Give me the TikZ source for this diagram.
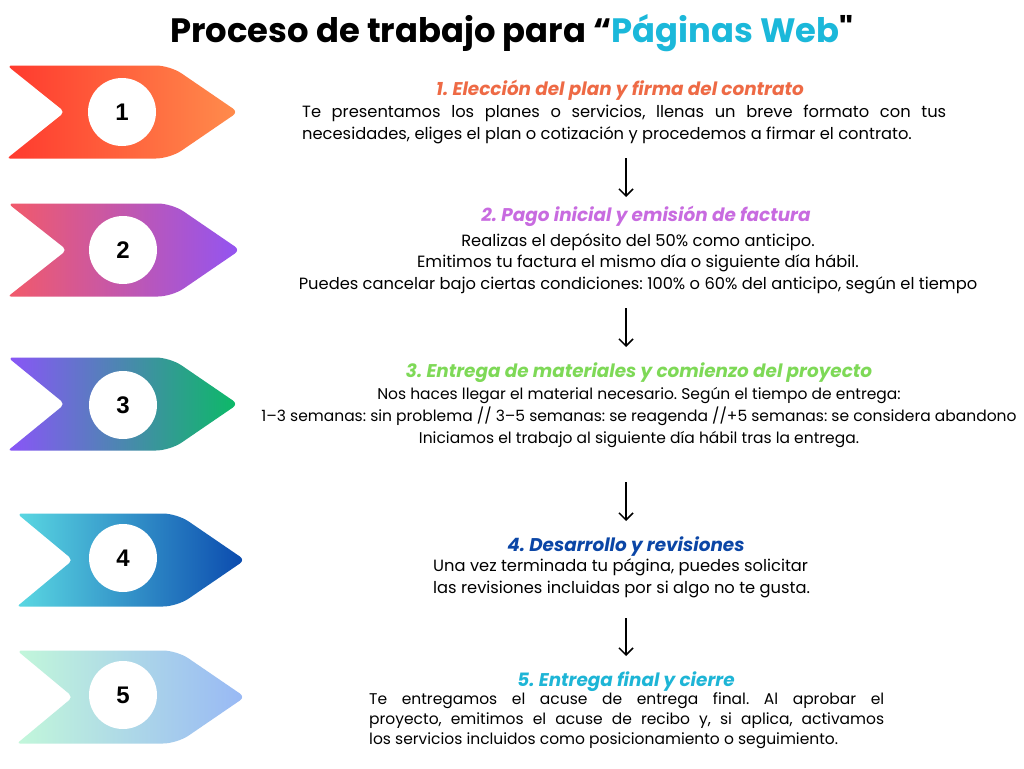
\documentclass[tikz,border=0pt]{standalone}
\usepackage{fontspec}
\setmainfont{Poppins}
\newfontfamily\titlefont{Poppins}[Ligatures=TeXOff]
\newfontfamily\numfont{Liberation Sans}
\usetikzlibrary{arrows.meta}
\definecolor{cAl}{HTML}{FF3A2E}\definecolor{cAr}{HTML}{FF8C4C}
\definecolor{cBl}{HTML}{F25A6A}\definecolor{cBr}{HTML}{9254F2}
\definecolor{cCl}{HTML}{8A55F8}\definecolor{cCr}{HTML}{0BBA66}
\definecolor{cDl}{HTML}{5AD8E2}\definecolor{cDr}{HTML}{0B4AAE}
\definecolor{cEl}{HTML}{C2F7DA}\definecolor{cEr}{HTML}{98B8F5}
\definecolor{hA}{HTML}{EE6A45}\definecolor{hB}{HTML}{C86BE0}
\definecolor{hC}{HTML}{7ED957}\definecolor{hD}{HTML}{0B46A6}
\definecolor{hE}{HTML}{1EB5D6}\definecolor{titlecyan}{HTML}{1BB8DA}
\newcommand\chevron[6]{% cy, L, N, T, leftcolor, rightcolor
  \shade[left color=#5,right color=#6,rounded corners=5pt]
    ({#2},{#1-46.5}) [rounded corners=14pt] -- ({#4-68},{#1-46.5})
    [rounded corners=6pt] -- ({#4},{#1}) [rounded corners=14pt] -- ({#4-68},{#1+46.5})
    [rounded corners=3pt] -- ({#2},{#1+46.5}) [rounded corners=5pt] -- ({#3},{#1}) -- cycle;}
\begin{document}
\frenchspacing
\begin{tikzpicture}[x=1pt,y=-1pt,
  numcircle/.style={circle,fill=white,minimum size=68pt,inner sep=0pt,
    font=\numfont\bfseries\fontsize{24}{24}\selectfont},
  titletext/.style={anchor=base,inner sep=0pt,font=\titlefont\bfseries\fontsize{33.8}{34}\selectfont},
  headtext/.style={anchor=base,inner sep=0pt,font=\bfseries\itshape\fontsize{18.4}{18}\selectfont},
  bodytext/.style={inner sep=0pt,font=\fontsize{16.3}{21.5}\selectfont},
  downarrow/.style={line width=1.5pt,-{Straight Barb[length=7pt,width=14pt,line width=1.5pt]}}]
\useasboundingbox[fill=white] (0,0) rectangle (1024,768);
% chevrons
\chevron{112}{7}{65}{238}{cAl}{cAr}
\chevron{250}{8}{67}{240}{cBl}{cBr}
\chevron{404}{8}{65}{238}{cCl}{cCr}
\chevron{560}{17}{73}{245}{cDl}{cDr}
\chevron{697}{17}{73}{245}{cEl}{cEr}
\node[numcircle] (n1) at (122,112) {1};
\node[numcircle] (n2) at (123,250) {2};
\node[numcircle] (n3) at (123,405) {3};
\node[numcircle] (n4) at (123,558) {4};
\node[numcircle] (n5) at (123,695) {5};
% title
\node[titletext] (title) at (512,42) {Proceso de trabajo para “\textcolor{titlecyan}{Páginas Web}"};
% step 1
\node[headtext,text=hA] (h1) at (620,95) {1. Elección del plan y firma del contrato};
\node[bodytext,anchor=north west,text width=644pt,align=justify] (b1) at (302,105)
  {Te presentamos los planes o servicios, llenas un breve formato con tus\linebreak
   necesidades, eliges el plan o cotización y procedemos a firmar el contrato.};
% step 2
\node[headtext,text=hB] (h2) at (646,221) {2. Pago inicial y emisión de factura};
\node[bodytext,anchor=north,align=center] (b2) at (638,233)
  {Realizas el depósito del 50\% como anticipo.\\
   Emitimos tu factura el mismo día o siguiente día hábil.\\
   Puedes cancelar bajo ciertas condiciones: 100\% o 60\% del anticipo, según el tiempo};
% step 3
\node[headtext,text=hC] (h3) at (639,377) {3. Entrega de materiales y comienzo del proyecto};
\node[bodytext,anchor=north,align=center,font=\fontsize{15.5}{22}\selectfont] (b3) at (639,387)
  {Nos haces llegar el material necesario. Según el tiempo de entrega:\\
   1–3 semanas: sin problema // 3–5 semanas: se reagenda //+5 semanas: se considera abandono\\
   Iniciamos el trabajo al siguiente día hábil tras la entrega.};
% step 4
\node[headtext,text=hD] (h4) at (626,551) {4. Desarrollo y revisiones};
\node[bodytext,anchor=north west,align=left,font=\fontsize{16.3}{22}\selectfont] (b4) at (433,559)
  {Una vez terminada tu página, puedes solicitar\\
   las revisiones incluidas por si algo no te gusta.};
% step 5
\node[headtext,text=hE] (h5) at (626,686) {5. Entrega final y cierre};
\node[bodytext,anchor=north west,text width=515pt,align=justify,font=\fontsize{15.5}{20}\selectfont] (b5) at (369,692)
  {Te entregamos el acuse de entrega final. Al aprobar el\linebreak
   proyecto, emitimos el acuse de recibo y, si aplica, activamos\linebreak
   los servicios incluidos como posicionamiento o seguimiento.};
% connectors
\coordinate (d1a) at (626,158); \coordinate (d1b) at (626,197);
\coordinate (d2a) at (626,308); \coordinate (d2b) at (626,347);
\coordinate (d3a) at (626,482); \coordinate (d3b) at (626,521);
\coordinate (d4a) at (626,618); \coordinate (d4b) at (626,656);
\draw[downarrow] (d1a) -- (d1b);
\draw[downarrow] (d2a) -- (d2b);
\draw[downarrow] (d3a) -- (d3b);
\draw[downarrow] (d4a) -- (d4b);
\end{tikzpicture}
\end{document}
